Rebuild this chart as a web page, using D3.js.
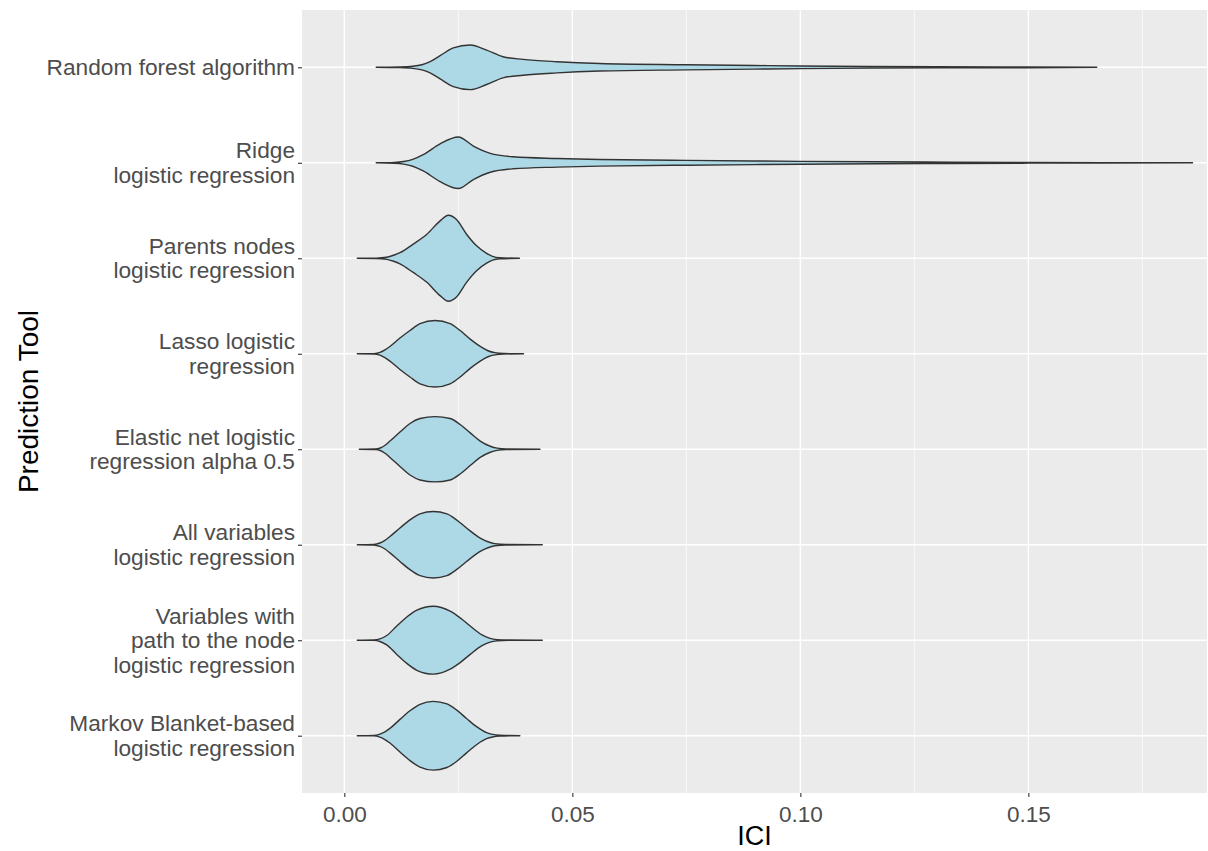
<!DOCTYPE html>
<html>
<head>
<meta charset="utf-8">
<script src="https://cdn.jsdelivr.net/npm/d3@7"></script>
<style>
  body { margin: 0; background: #ffffff; }
  svg { display: block; font-family: "Liberation Sans", Arial, sans-serif; }
</style>
</head>
<body>
<script>
// categories, top to bottom (label lines split with "\n")
var tools = [
  "Random forest algorithm",
  "Ridge\nlogistic regression",
  "Parents nodes\nlogistic regression",
  "Lasso logistic\nregression",
  "Elastic net logistic\nregression alpha 0.5",
  "All variables\nlogistic regression",
  "Variables with\npath to the node\nlogistic regression",
  "Markov Blanket-based\nlogistic regression"
];

// violin outlines: ICI value and relative density (1 = widest violin)
var iciRF      = [0.0070, 0.0120, 0.0150, 0.0170, 0.0188, 0.0210, 0.0239, 0.0276, 0.0312, 0.0348, 0.0392, 0.0466, 0.056, 0.075, 0.090, 0.100, 0.115, 0.130, 0.150, 0.165];
var densRF     = [0, 0.008, 0.025, 0.06, 0.13, 0.27, 0.45, 0.52, 0.40, 0.245, 0.185, 0.13, 0.088, 0.06, 0.042, 0.03, 0.019, 0.012, 0.009, 0];

var iciRidge   = [0.0070, 0.0110, 0.0130, 0.0150, 0.0173, 0.0210, 0.0250, 0.0283, 0.0320, 0.0370, 0.0466, 0.056, 0.075, 0.090, 0.100, 0.117, 0.133, 0.150, 0.186];
var densRidge  = [0, 0.01, 0.03, 0.08, 0.19, 0.44, 0.60, 0.39, 0.22, 0.14, 0.10, 0.077, 0.056, 0.042, 0.033, 0.023, 0.016, 0.009, 0];

var iciParents  = [0.00285, 0.0070, 0.0093, 0.0108, 0.0122, 0.0151, 0.0181, 0.0210, 0.0228, 0.0246, 0.0268, 0.0290, 0.0312, 0.0325, 0.0340, 0.0384];
var densParents = [0, 0.004, 0.025, 0.07, 0.13, 0.33, 0.56, 0.87, 1.0, 0.9, 0.56, 0.29, 0.115, 0.045, 0.012, 0];

var iciLasso   = [0.00285, 0.0065, 0.0078, 0.0089, 0.0100, 0.0122, 0.0144, 0.0166, 0.0199, 0.0232, 0.0254, 0.0276, 0.0298, 0.0315, 0.0330, 0.0350, 0.0393];
var densLasso  = [0, 0.004, 0.03, 0.09, 0.17, 0.365, 0.54, 0.70, 0.775, 0.70, 0.54, 0.34, 0.17, 0.07, 0.025, 0.006, 0];

var iciElastic  = [0.0033, 0.0068, 0.0080, 0.0090, 0.0100, 0.0122, 0.0144, 0.0166, 0.0199, 0.0232, 0.0254, 0.0276, 0.0298, 0.0320, 0.0335, 0.0355, 0.0429];
var densElastic = [0, 0.005, 0.035, 0.10, 0.19, 0.40, 0.60, 0.715, 0.76, 0.715, 0.575, 0.38, 0.19, 0.07, 0.025, 0.006, 0];

var iciAll     = [0.00285, 0.0065, 0.0078, 0.0089, 0.0100, 0.0122, 0.0144, 0.0166, 0.0195, 0.0225, 0.0246, 0.0268, 0.0298, 0.0315, 0.0330, 0.0355, 0.0434];
var densAll    = [0, 0.006, 0.04, 0.10, 0.19, 0.39, 0.58, 0.72, 0.775, 0.72, 0.58, 0.39, 0.155, 0.07, 0.025, 0.006, 0];

var iciPath    = [0.00285, 0.0065, 0.0078, 0.0093, 0.0115, 0.0137, 0.0159, 0.0195, 0.0232, 0.0254, 0.0276, 0.0301, 0.0318, 0.0335, 0.0360, 0.0434];
var densPath   = [0, 0.004, 0.03, 0.11, 0.33, 0.54, 0.70, 0.79, 0.675, 0.52, 0.33, 0.13, 0.05, 0.015, 0.004, 0];

var iciMarkov  = [0.00285, 0.0065, 0.0078, 0.0089, 0.0100, 0.0122, 0.0144, 0.0166, 0.0195, 0.0225, 0.0246, 0.0268, 0.0290, 0.0312, 0.0325, 0.0340, 0.0385];
var densMarkov = [0, 0.005, 0.035, 0.09, 0.17, 0.38, 0.58, 0.73, 0.80, 0.74, 0.60, 0.40, 0.21, 0.07, 0.03, 0.01, 0];

var xTicks = [0, 0.05, 0.10, 0.15];
var xMinor = [0.025, 0.075, 0.125, 0.175];

var violins = [
  [iciRF, densRF], [iciRidge, densRidge], [iciParents, densParents], [iciLasso, densLasso],
  [iciElastic, densElastic], [iciAll, densAll], [iciPath, densPath], [iciMarkov, densMarkov]
];

var W = 1208, H = 851;
var panel = { left: 302, right: 1207, top: 10, bottom: 793 };

var svg = d3.select("body").append("svg")
  .attr("width", W)
  .attr("height", H);

var x = d3.scaleLinear()
  .domain([-0.00928, 0.18917])
  .range([panel.left, panel.right]);

var y = d3.scalePoint()
  .domain(tools)
  .range([panel.top, panel.bottom])
  .padding(0.6);

// widest violin spans 0.9 of a category step
var w = d3.scaleLinear()
  .domain([0, 1])
  .range([0, 0.45 * y.step()]);

// panel background + grid
svg.append("rect")
  .attr("x", panel.left).attr("y", panel.top)
  .attr("width", panel.right - panel.left)
  .attr("height", panel.bottom - panel.top)
  .attr("fill", "#EBEBEB");

svg.selectAll(".minor").data(xMinor).enter().append("line")
  .attr("x1", d => x(d)).attr("x2", d => x(d))
  .attr("y1", panel.top).attr("y2", panel.bottom)
  .attr("stroke", "#ffffff").attr("stroke-width", 0.7);

svg.selectAll(".major").data(xTicks).enter().append("line")
  .attr("x1", d => x(d)).attr("x2", d => x(d))
  .attr("y1", panel.top).attr("y2", panel.bottom)
  .attr("stroke", "#ffffff").attr("stroke-width", 1.4);

svg.selectAll(".hgrid").data(tools).enter().append("line")
  .attr("x1", panel.left).attr("x2", panel.right)
  .attr("y1", d => y(d)).attr("y2", d => y(d))
  .attr("stroke", "#ffffff").attr("stroke-width", 1.4);

// violins
violins.forEach(function(v, i) {
  var cy = y(tools[i]);
  var pts = v[0].map((d, j) => ({ ici: d, dens: v[1][j] }));
  var area = d3.area()
    .x(d => x(d.ici))
    .y0(d => cy - w(d.dens))
    .y1(d => cy + w(d.dens))
    .curve(d3.curveMonotoneX);
  svg.append("path")
    .datum(pts)
    .attr("d", area)
    .attr("fill", "#ADD8E6")
    .attr("stroke", "#333333")
    .attr("stroke-width", 1.4)
    .attr("stroke-linejoin", "round");
});

// x axis
var xAxis = svg.append("g")
  .attr("transform", "translate(0," + panel.bottom + ")")
  .call(d3.axisBottom(x).tickValues(xTicks).tickFormat(d3.format(".2f")).tickSize(4).tickPadding(6));
xAxis.select(".domain").remove();
xAxis.selectAll(".tick line").attr("stroke", "#333333").attr("stroke-width", 1.1);
xAxis.selectAll(".tick text")
  .attr("fill", "#4D4D4D")
  .style("font-size", "22.5px")
  .attr("dy", "0.85em");

// y axis ticks
var yAxis = svg.append("g")
  .attr("transform", "translate(" + panel.left + ",0)")
  .call(d3.axisLeft(y).tickSize(4).tickFormat(""));
yAxis.select(".domain").remove();
yAxis.selectAll(".tick line").attr("stroke", "#333333").attr("stroke-width", 1.1);

// multi-line y labels
var lineH = 24.5;
svg.selectAll(".ylab").data(tools).enter().append("text")
  .attr("text-anchor", "end")
  .attr("fill", "#4D4D4D")
  .style("font-size", "22.7px")
  .each(function(d) {
    var lines = d.split("\n");
    var t = d3.select(this);
    lines.forEach(function(l, k) {
      t.append("tspan")
        .attr("x", panel.left - 7)
        .attr("y", y(d) + (k - (lines.length - 1) / 2) * lineH + 7.8)
        .text(l);
    });
  });

// axis titles
svg.append("text")
  .attr("x", (panel.left + panel.right) / 2)
  .attr("y", 845)
  .attr("text-anchor", "middle")
  .attr("fill", "#000000")
  .style("font-size", "27px")
  .text("ICI");

svg.append("text")
  .attr("transform", "translate(38," + ((panel.top + panel.bottom) / 2) + ") rotate(-90)")
  .attr("text-anchor", "middle")
  .attr("fill", "#000000")
  .style("font-size", "28px")
  .text("Prediction Tool");
</script>
</body>
</html>
